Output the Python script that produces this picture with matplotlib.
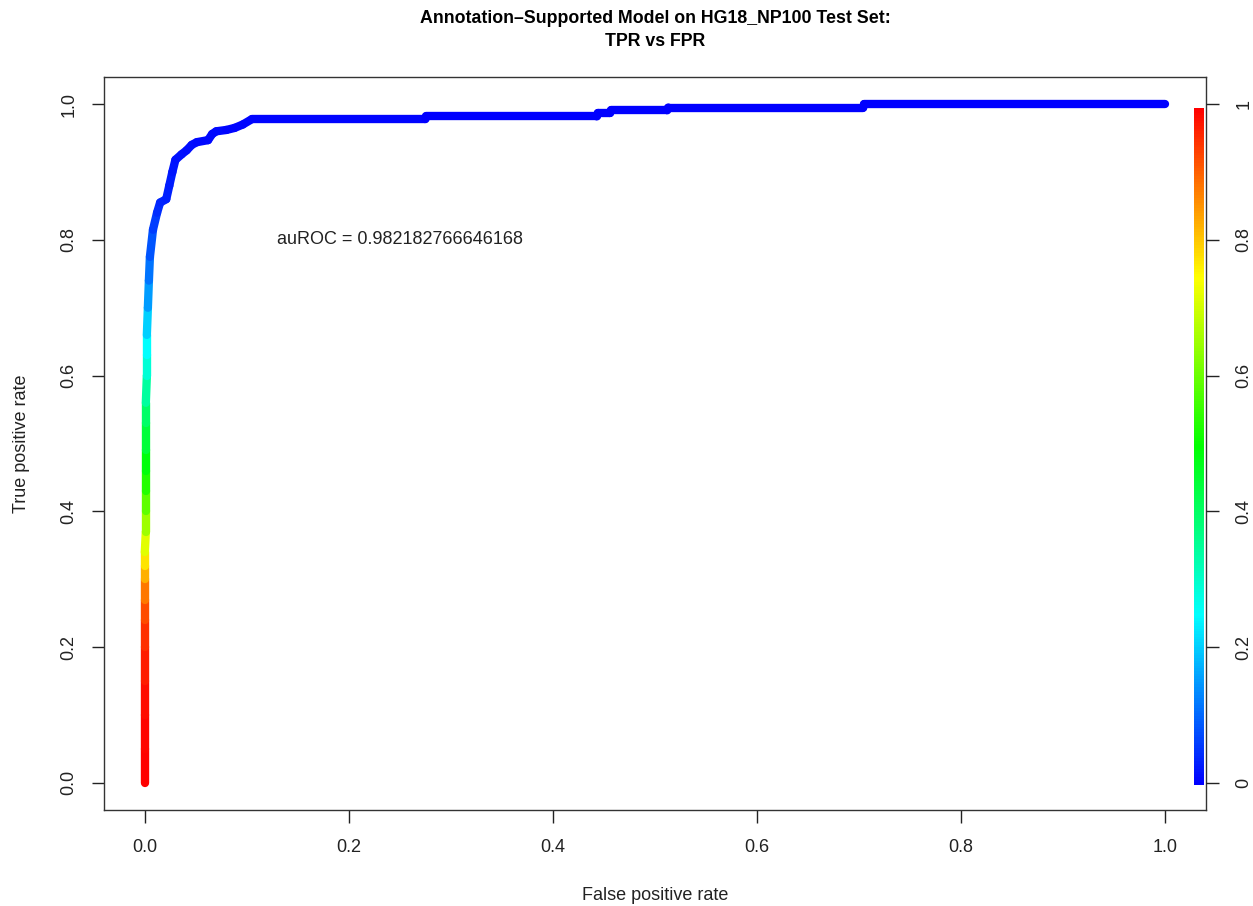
import numpy as np
import matplotlib.pyplot as plt
from matplotlib.collections import LineCollection
from matplotlib.colors import ListedColormap, Normalize, hsv_to_rgb
from matplotlib.cm import ScalarMappable

plt.rcParams['font.family'] = ['Liberation Sans', 'DejaVu Sans']

# ROC curve points: false positive rate, true positive rate, cutoff
fpr = [0.000, 0.000, 0.000, 0.000, 0.000, 0.000, 0.000, 0.000, 0.000, 0.000,
       0.001, 0.001, 0.001, 0.001, 0.001, 0.001, 0.001, 0.002, 0.002, 0.002,
       0.003, 0.004, 0.005, 0.008, 0.012, 0.015, 0.021, 0.024, 0.027, 0.030,
       0.036, 0.041, 0.046, 0.051, 0.062, 0.066, 0.070, 0.080, 0.088, 0.096,
       0.105, 0.275, 0.276, 0.443, 0.444, 0.456, 0.457, 0.512, 0.513, 0.704,
       0.705, 1.000]
tpr = [0.000, 0.050, 0.100, 0.150, 0.200, 0.240, 0.270, 0.300, 0.320, 0.340,
       0.370, 0.400, 0.430, 0.460, 0.490, 0.530, 0.560, 0.600, 0.630, 0.660,
       0.700, 0.740, 0.775, 0.815, 0.840, 0.855, 0.860, 0.880, 0.900, 0.918,
       0.926, 0.932, 0.940, 0.944, 0.947, 0.956, 0.960, 0.962, 0.965, 0.970,
       0.978, 0.978, 0.982, 0.982, 0.987, 0.987, 0.991, 0.991, 0.995, 0.995,
       1.000, 1.000]
cutoff = [1.000, 0.995, 0.990, 0.980, 0.965, 0.940, 0.910, 0.850, 0.800, 0.750,
          0.690, 0.620, 0.560, 0.510, 0.470, 0.420, 0.380, 0.310, 0.270, 0.230,
          0.180, 0.130, 0.100, 0.070, 0.050, 0.040, 0.035, 0.030, 0.025, 0.020,
          0.017, 0.015, 0.013, 0.012, 0.011, 0.010, 0.009, 0.008, 0.007, 0.006,
          0.005, 0.003, 0.003, 0.002, 0.002, 0.002, 0.002, 0.001, 0.001, 0.001,
          0.0005, 0.000]
auroc = 0.982182766646168

x_ticks = [0.0, 0.2, 0.4, 0.6, 0.8, 1.0]
cb_ticks = [0, 0.2, 0.4, 0.6, 0.8, 1]
cb_labels = ['0', '0.2', '0.4', '0.6', '0.8', '1']

# R-style rainbow palette: blue (low cutoff) -> red (high cutoff)
hues = np.linspace(2 / 3, 0, 256)
palette = hsv_to_rgb(np.column_stack([hues, np.ones(256), np.ones(256)]))
cmap = ListedColormap(palette)
norm = Normalize(vmin=0, vmax=1)

fig = plt.figure(figsize=(12.53, 9.06), dpi=100)
ax = fig.add_axes([0.083, 0.106, 0.8795, 0.809])

pts = np.column_stack([fpr, tpr]).reshape(-1, 1, 2)
segs = np.concatenate([pts[:-1], pts[1:]], axis=1)
seg_cut = (np.array(cutoff[:-1]) + np.array(cutoff[1:])) / 2
lc = LineCollection(segs, cmap=cmap, norm=norm, linewidths=6, capstyle='round', joinstyle='round')
lc.set_array(seg_cut)
ax.add_collection(lc)

ax.set_xlim(-0.04, 1.04)
ax.set_ylim(-0.04, 1.04)
ax.set_xticks(x_ticks)
ax.set_xticklabels([f'{t:.1f}' for t in x_ticks])
ax.set_yticks(x_ticks)
ax.set_yticklabels([f'{t:.1f}' for t in x_ticks], rotation=90, va='center')
ax.tick_params(axis='x', length=9, width=1, pad=12, labelsize=13, colors='#222222')
ax.tick_params(axis='y', length=9, width=1, pad=10, labelsize=13, colors='#222222')
for s in ax.spines.values():
    s.set_color('#333333')
    s.set_linewidth(1)

ax.set_xlabel('False positive rate', fontsize=13, labelpad=22, color='#222222')
ax.set_ylabel('True positive rate', fontsize=13, labelpad=22, color='#222222')
ax.set_title('Annotation\u2013Supported Model on HG18_NP100 Test Set:\nTPR vs FPR',
             fontsize=12.8, fontweight='bold', pad=22, linespacing=1.5)

ax.text(0.25, 0.80, f'auROC = {auroc}', ha='center', va='center', fontsize=13, color='#222222')

# colour key along the right edge
cax = ax.inset_axes([1.028, -0.003, 0.01, 0.998], transform=ax.transData)
fig.colorbar(ScalarMappable(norm=norm, cmap=cmap), cax=cax)
cax.set_axis_off()

ax2 = ax.twinx()
ax2.set_ylim(-0.04, 1.04)
ax2.set_yticks(cb_ticks)
ax2.set_yticklabels(cb_labels, rotation=90, va='center')
ax2.tick_params(axis='y', length=9, width=1, pad=12, labelsize=13, colors='#222222')
for s in ax2.spines.values():
    s.set_visible(False)

fig.savefig('out.png', dpi=100)
